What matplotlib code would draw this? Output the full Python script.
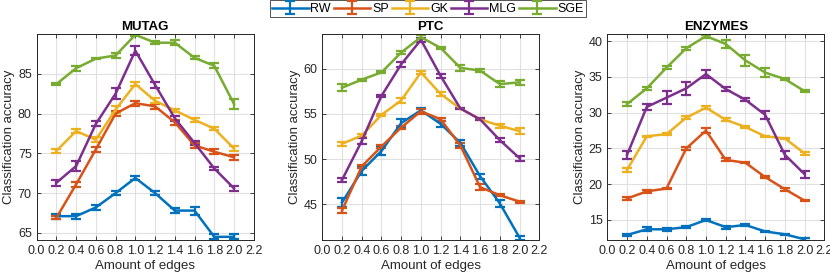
import numpy as np
import matplotlib.pyplot as plt

plt.rcParams['font.family'] = ['Liberation Sans', 'DejaVu Sans']

x = [0.2, 0.4, 0.6, 0.8, 1.0, 1.2, 1.4, 1.6, 1.8, 2.0]
methods = ["RW", "SP", "GK", "MLG", "SGE"]
colors = ["#0072BD", "#D95319", "#EDB120", "#7E2F8E", "#77AC30"]

# MUTAG
mutag_rw = [67.1, 67.1, 68.2, 70.0, 71.9, 70.0, 67.8, 67.8, 64.5, 64.5]
mutag_sp = [66.9, 71.1, 75.5, 80.0, 81.3, 80.9, 78.9, 76.0, 75.2, 74.5]
mutag_gk = [75.3, 77.8, 76.7, 80.5, 83.7, 81.6, 80.4, 79.2, 78.1, 75.6]
mutag_mlg = [71.3, 73.4, 78.7, 82.5, 87.9, 83.6, 79.4, 76.3, 73.1, 70.6]
mutag_sge = [83.7, 85.7, 86.9, 87.3, 89.9, 88.9, 88.9, 87.0, 86.0, 81.2]
mutag_err = [
    [0.3, 0.3, 0.3, 0.3, 0.2, 0.3, 0.3, 0.5, 0.3, 0.3],
    [0.2, 0.3, 0.3, 0.3, 0.3, 0.3, 0.3, 0.3, 0.3, 0.3],
    [0.3, 0.3, 0.3, 0.4, 0.3, 0.3, 0.2, 0.3, 0.2, 0.3],
    [0.4, 0.6, 0.3, 0.7, 0.6, 0.4, 0.3, 0.3, 0.2, 0.3],
    [0.1, 0.3, 0.1, 0.3, 0.1, 0.2, 0.3, 0.2, 0.3, 0.6],
]

# PTC
ptc_rw = [45.2, 48.7, 50.9, 54.0, 55.4, 53.9, 51.8, 48.1, 45.1, 41.3]
ptc_sp = [44.3, 49.2, 51.4, 53.5, 55.3, 54.4, 51.5, 46.9, 46.0, 45.3]
ptc_gk = [51.7, 52.6, 54.9, 56.5, 59.6, 57.2, 55.6, 54.4, 53.7, 53.1]
ptc_mlg = [47.7, 52.0, 57.0, 60.5, 63.2, 59.2, 55.6, 54.4, 52.1, 50.1]
ptc_sge = [57.9, 58.8, 59.6, 61.8, 63.5, 62.3, 60.1, 59.8, 58.3, 58.5]
ptc_err = [
    [0.5, 0.4, 0.4, 0.4, 0.3, 0.3, 0.3, 0.3, 0.4, 0.2],
    [0.3, 0.2, 0.2, 0.2, 0.3, 0.2, 0.3, 0.3, 0.1, 0.1],
    [0.2, 0.2, 0.1, 0.3, 0.2, 0.2, 0.1, 0.1, 0.2, 0.3],
    [0.2, 0.3, 0.1, 0.3, 0.2, 0.2, 0.1, 0.1, 0.2, 0.3],
    [0.4, 0.1, 0.1, 0.2, 0.2, 0.1, 0.3, 0.2, 0.3, 0.3],
]

# ENZYMES
enz_rw = [12.9, 13.7, 13.7, 14.0, 15.0, 14.0, 14.3, 13.4, 13.0, 12.3]
enz_sp = [18.0, 19.0, 19.4, 25.0, 27.5, 23.4, 23.0, 21.0, 19.3, 17.7]
enz_gk = [22.0, 26.7, 27.0, 29.3, 30.7, 29.0, 28.0, 26.7, 26.4, 24.3]
enz_mlg = [24.1, 30.8, 32.1, 33.4, 35.4, 33.3, 31.8, 29.7, 24.1, 21.4]
enz_sge = [31.2, 33.4, 36.3, 39.0, 40.7, 39.6, 37.3, 35.6, 34.7, 33.0]
enz_err = [
    [0.2, 0.3, 0.2, 0.1, 0.2, 0.2, 0.2, 0.1, 0.1, 0.2],
    [0.2, 0.2, 0.1, 0.2, 0.3, 0.2, 0.1, 0.1, 0.2, 0.1],
    [0.3, 0.1, 0.1, 0.2, 0.2, 0.2, 0.2, 0.1, 0.1, 0.2],
    [0.6, 0.4, 0.9, 0.9, 0.6, 0.3, 0.2, 0.6, 0.6, 0.5],
    [0.3, 0.2, 0.2, 0.2, 0.2, 0.5, 0.8, 0.6, 0.2, 0.1],
]

panels = [
    ("MUTAG", [mutag_rw, mutag_sp, mutag_gk, mutag_mlg, mutag_sge], mutag_err,
     (64.1, 90.0), [65, 70, 75, 80, 85]),
    ("PTC", [ptc_rw, ptc_sp, ptc_gk, ptc_mlg, ptc_sge], ptc_err,
     (41.05, 63.85), [45, 50, 55, 60]),
    ("ENZYMES", [enz_rw, enz_sp, enz_gk, enz_mlg, enz_sge], enz_err,
     (12.2, 41.0), [15, 20, 25, 30, 35, 40]),
]

xticks = np.round(np.arange(0, 2.21, 0.2), 1)

fig = plt.figure(figsize=(8.3, 2.74), dpi=100)
lefts = [0.0442, 0.3883, 0.7317]
width = 0.2615
handles = []
for i, (title, series, errs, ylim, yticks) in enumerate(panels):
    ax = fig.add_axes([lefts[i], 0.124, width, 0.752])
    for j, (vals, err) in enumerate(zip(series, errs)):
        h = ax.errorbar(x, vals, yerr=err, color=colors[j], lw=1.8,
                        capsize=3.5, capthick=1.6, elinewidth=1.6,
                        label=methods[j])
        if i == 0:
            handles.append(h)
    ax.set_xlim(0, 2.2)
    ax.set_ylim(*ylim)
    ax.set_xticks(xticks)
    ax.set_xticklabels([f"{t:.1f}" for t in xticks])
    ax.set_yticks(yticks)
    ax.grid(True, color="#e0e0e0", lw=0.8)
    ax.set_axisbelow(True)
    for s in ax.spines.values():
        s.set_color("#262626")
        s.set_linewidth(0.7)
    ax.tick_params(labelsize=9, colors="#262626", direction="in", length=3,
                   width=0.6, top=True, right=True)
    ax.set_title(title, fontsize=9.5, fontweight="bold", pad=3)
    ax.set_xlabel("Amount of edges", fontsize=9.5, color="#262626", labelpad=2)
    ax.set_ylabel("Classification accuracy", fontsize=9.5, color="#262626",
                  labelpad=2)

leg = fig.legend(handles, methods, loc="upper center", ncol=5,
                 bbox_to_anchor=(0.5157, 1.003), fontsize=9, frameon=True,
                 fancybox=False, edgecolor="#262626", handlelength=2.9,
                 handletextpad=0.15, columnspacing=0.25, borderpad=0.2,
                 borderaxespad=0.1)
leg.get_frame().set_linewidth(0.7)

fig.savefig("out.png", dpi=100)
